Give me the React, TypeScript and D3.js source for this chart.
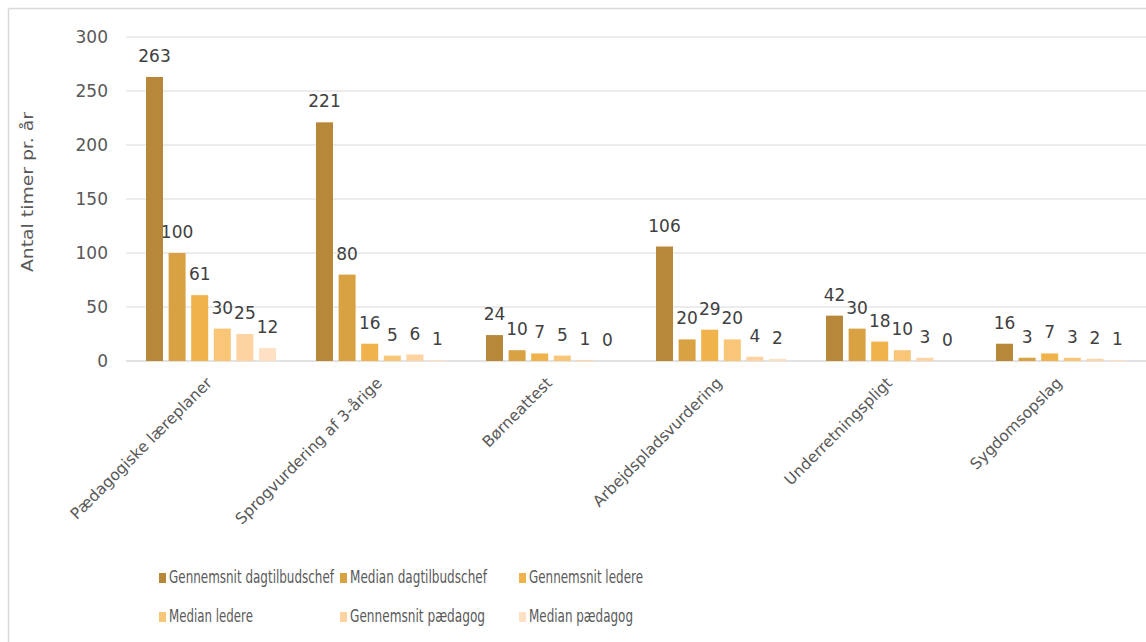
import React from "react";
import * as d3 from "d3";

const categories = [
  "Pædagogiske læreplaner",
  "Sprogvurdering af 3-årige",
  "Børneattest",
  "Arbejdspladsvurdering",
  "Underretningspligt",
  "Sygdomsopslag",
];

const seriesNames = [
  "Gennemsnit dagtilbudschef",
  "Median dagtilbudschef",
  "Gennemsnit ledere",
  "Median ledere",
  "Gennemsnit pædagog",
  "Median pædagog",
];

const gnsDagtilbudschef = [263, 221, 24, 106, 42, 16];
const medDagtilbudschef = [100, 80, 10, 20, 30, 3];
const gnsLedere = [61, 16, 7, 29, 18, 7];
const medLedere = [30, 5, 5, 20, 10, 3];
const gnsPaedagog = [25, 6, 1, 4, 3, 2];
const medPaedagog = [12, 1, 0, 2, 0, 1];

const yTicks = [0, 50, 100, 150, 200, 250, 300];

const seriesValues = [
  gnsDagtilbudschef,
  medDagtilbudschef,
  gnsLedere,
  medLedere,
  gnsPaedagog,
  medPaedagog,
];

const colors = ["#B8883A", "#D8A243", "#F0B24A", "#F9C577", "#FDD3A2", "#FEE1C4"];
const legendWidths = [165, 137, 114, 84, 135, 104];

export default function App() {
  const W = 1146;
  const H = 642;
  const left = 126;
  const right = 1146;
  const y = d3.scaleLinear().domain([0, 300]).range([361, 37]);
  const x0 = d3.scaleBand<string>().domain(categories).range([left, right]).padding(0);
  const x1 = d3
    .scaleBand<string>()
    .domain(seriesNames)
    .range([20, 150])
    .paddingInner(0.248)
    .paddingOuter(0);

  const legendCols = [159, 340, 519];
  const legendRows = [583, 622];

  return (
    <svg
      width={W}
      height={H}
      style={{ position: "absolute", left: 0, top: 0, background: "#fff" }}
    >
      <rect x={0} y={0} width={W} height={H} fill="#fff" />
      {/* frame */}
      <line x1={8.5} y1={8.5} x2={W} y2={8.5} stroke="#d9d9d9" strokeWidth={1.5} />
      <line x1={8.5} y1={8.5} x2={8.5} y2={H} stroke="#d9d9d9" strokeWidth={1.5} />

      {/* grid */}
      {yTicks.map((t) => (
        <g key={t}>
          <line
            x1={left}
            x2={right}
            y1={y(t)}
            y2={y(t)}
            stroke="#d9d9d9"
            strokeWidth={t === 0 ? 1.5 : 1.2}
          />
          <text
            x={108}
            y={y(t) + 6}
            textAnchor="end"
            fontFamily="DejaVu Sans, Verdana, sans-serif"
            fontSize={17}
            fill="#595959"
          >
            {t}
          </text>
        </g>
      ))}

      {/* y title */}
      <text
        transform={`translate(33,192) rotate(-90)`}
        textAnchor="middle"
        fontFamily="DejaVu Sans, Verdana, sans-serif"
        fontSize={16}
        fill="#595959"
        textLength={160}
        lengthAdjust="spacingAndGlyphs"
      >
        Antal timer pr. år
      </text>

      {/* bars */}
      {categories.map((c, ci) => (
        <g key={c} transform={`translate(${x0(c)},0)`}>
          {seriesNames.map((s, si) => {
            const v = seriesValues[si][ci];
            const bx = x1(s)!;
            const bw = x1.bandwidth();
            return (
              <g key={s}>
                <rect
                  x={bx}
                  y={y(v)}
                  width={bw}
                  height={y(0) - y(v)}
                  fill={colors[si]}
                />
                <text
                  x={bx + bw / 2}
                  y={y(v) - 15}
                  textAnchor="middle"
                  fontFamily="DejaVu Sans, Verdana, sans-serif"
                  fontSize={17}
                  fill="#404040"
                >
                  {v}
                </text>
              </g>
            );
          })}
          <text
            transform={`translate(${x0.bandwidth() / 2 + 2},384) rotate(-45)`}
            textAnchor="end"
            fontFamily="DejaVu Sans, Verdana, sans-serif"
            fontSize={15.5}
            fill="#595959"
          >
            {c}
          </text>
        </g>
      ))}

      {/* legend */}
      {seriesNames.map((s, i) => {
        const col = i % 3;
        const row = Math.floor(i / 3);
        const lx = legendCols[col];
        const ly = legendRows[row];
        return (
          <g key={s}>
            <rect x={lx} y={ly - 10} width={7} height={10} fill={colors[i]} />
            <text
              x={lx + 10}
              y={ly}
              fontFamily="DejaVu Sans, Verdana, sans-serif"
              fontSize={17}
              fill="#595959"
              textLength={legendWidths[i]}
              lengthAdjust="spacingAndGlyphs"
            >
              {s}
            </text>
          </g>
        );
      })}
    </svg>
  );
}
